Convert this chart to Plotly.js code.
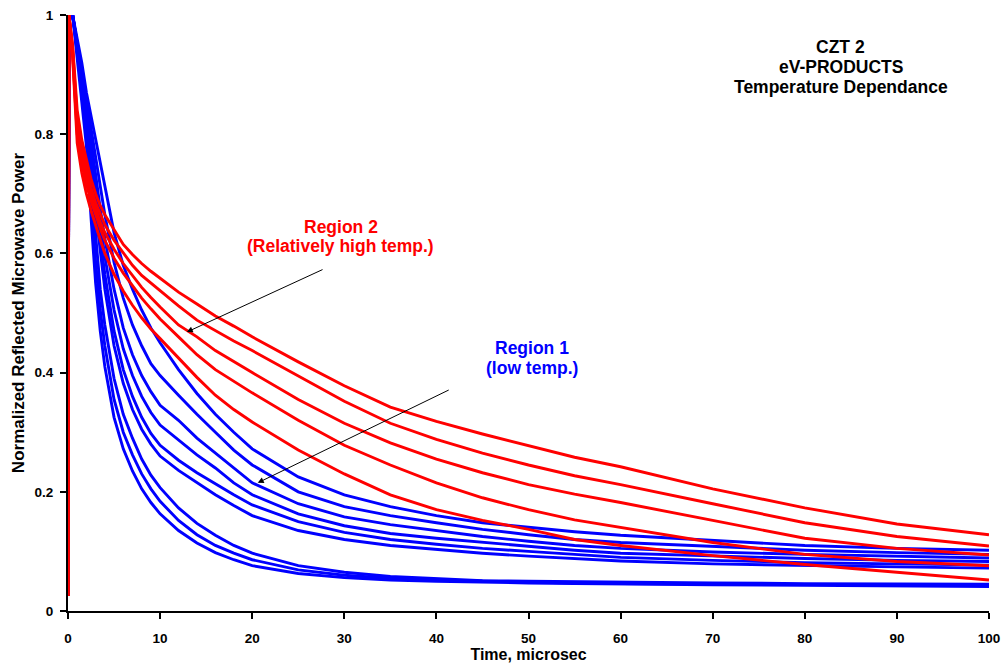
<!DOCTYPE html>
<html>
<head>
<meta charset="utf-8">
<script src="https://cdn.plot.ly/plotly-3.0.1.min.js"></script>
<style>
  html, body { margin: 0; padding: 0; background: #fff; }
  #chart { width: 1006px; height: 669px; }
</style>
</head>
<body>
<div id="chart"></div>
<script>
// Sample times (microseconds) shared by every decay trace
const timeUs = [0, 0.1, 0.5, 1, 1.5, 2, 2.5, 3, 3.5, 4, 5, 6, 7, 8, 9, 10, 12, 14, 16, 18, 20,
                25, 30, 35, 40, 45, 50, 55, 60, 70, 80, 90, 100];

// Region 1 (low temperature) decays, slowest to fastest
const low1 = [0.025, 1, 1.0, 0.96, 0.92, 0.87, 0.83, 0.79, 0.75, 0.71, 0.635, 0.58, 0.54, 0.505, 0.475, 0.45, 0.405, 0.365, 0.33, 0.3, 0.272, 0.225, 0.195, 0.175, 0.16, 0.148, 0.14, 0.133, 0.127, 0.118, 0.11, 0.105, 0.102];
const low2 = [0.025, 1, 1.0, 0.955, 0.91, 0.86, 0.81, 0.76, 0.71, 0.665, 0.585, 0.525, 0.48, 0.445, 0.415, 0.395, 0.362, 0.33, 0.3, 0.27, 0.245, 0.2, 0.175, 0.16, 0.148, 0.137, 0.128, 0.12, 0.115, 0.108, 0.102, 0.098, 0.095];
const low3 = [0.025, 1, 1.0, 0.95, 0.9, 0.85, 0.79, 0.73, 0.675, 0.625, 0.54, 0.475, 0.43, 0.395, 0.368, 0.345, 0.32, 0.29, 0.265, 0.24, 0.215, 0.18, 0.158, 0.145, 0.135, 0.125, 0.117, 0.11, 0.105, 0.099, 0.095, 0.092, 0.089];
const low4 = [0.025, 1, 1.0, 0.95, 0.895, 0.84, 0.775, 0.71, 0.65, 0.595, 0.505, 0.44, 0.395, 0.36, 0.333, 0.312, 0.287, 0.262, 0.24, 0.215, 0.195, 0.163, 0.143, 0.13, 0.122, 0.115, 0.108, 0.102, 0.097, 0.092, 0.088, 0.085, 0.083];
const low5 = [0.025, 1, 1.0, 0.95, 0.89, 0.83, 0.76, 0.69, 0.625, 0.565, 0.47, 0.405, 0.36, 0.325, 0.298, 0.278, 0.253, 0.232, 0.213, 0.195, 0.178, 0.15, 0.132, 0.12, 0.112, 0.105, 0.1, 0.095, 0.09, 0.085, 0.081, 0.079, 0.077];
const low6 = [0.025, 1, 1.0, 0.95, 0.885, 0.82, 0.745, 0.67, 0.6, 0.54, 0.445, 0.382, 0.338, 0.305, 0.28, 0.26, 0.236, 0.215, 0.195, 0.177, 0.16, 0.135, 0.12, 0.11, 0.103, 0.097, 0.092, 0.088, 0.084, 0.079, 0.076, 0.074, 0.072];
const low7 = [0.025, 1, 1.0, 0.945, 0.885, 0.815, 0.72, 0.62, 0.54, 0.48, 0.39, 0.33, 0.29, 0.255, 0.228, 0.207, 0.173, 0.147, 0.127, 0.11, 0.097, 0.076, 0.065, 0.058, 0.054, 0.051, 0.05, 0.049, 0.048, 0.047, 0.046, 0.045, 0.045];
const low8 = [0.025, 1, 1.0, 0.94, 0.875, 0.8, 0.69, 0.585, 0.505, 0.445, 0.355, 0.3, 0.262, 0.23, 0.205, 0.184, 0.152, 0.128, 0.11, 0.097, 0.086, 0.069, 0.06, 0.055, 0.052, 0.05, 0.048, 0.047, 0.046, 0.045, 0.044, 0.044, 0.043];
const low9 = [0.025, 1, 1.0, 0.93, 0.86, 0.78, 0.66, 0.55, 0.47, 0.41, 0.325, 0.272, 0.235, 0.205, 0.182, 0.163, 0.135, 0.114, 0.098, 0.086, 0.076, 0.063, 0.056, 0.052, 0.05, 0.048, 0.047, 0.046, 0.045, 0.044, 0.043, 0.042, 0.041];

// Region 2 (relatively high temperature) decays, slowest to fastest
const high1 = [0.025, 1, 0.95, 0.84, 0.79, 0.755, 0.725, 0.70, 0.68, 0.665, 0.64, 0.615, 0.598, 0.583, 0.57, 0.558, 0.535, 0.515, 0.495, 0.478, 0.46, 0.418, 0.378, 0.342, 0.318, 0.297, 0.277, 0.258, 0.242, 0.205, 0.173, 0.146, 0.128];
const high2 = [0.025, 1, 0.945, 0.825, 0.775, 0.74, 0.71, 0.685, 0.665, 0.648, 0.622, 0.6, 0.58, 0.563, 0.55, 0.537, 0.512, 0.488, 0.47, 0.453, 0.437, 0.394, 0.352, 0.315, 0.288, 0.265, 0.245, 0.227, 0.212, 0.18, 0.148, 0.125, 0.109];
const high3 = [0.025, 1, 0.94, 0.81, 0.762, 0.728, 0.7, 0.675, 0.652, 0.635, 0.607, 0.583, 0.562, 0.543, 0.526, 0.51, 0.48, 0.46, 0.437, 0.418, 0.4, 0.355, 0.315, 0.282, 0.255, 0.232, 0.212, 0.196, 0.182, 0.152, 0.122, 0.105, 0.094];
const high4 = [0.025, 1, 0.935, 0.8, 0.75, 0.716, 0.688, 0.663, 0.642, 0.622, 0.592, 0.567, 0.545, 0.525, 0.507, 0.49, 0.46, 0.43, 0.405, 0.385, 0.366, 0.32, 0.278, 0.245, 0.215, 0.19, 0.17, 0.153, 0.14, 0.115, 0.095, 0.083, 0.076];
const high5 = [0.025, 1, 0.93, 0.785, 0.735, 0.7, 0.672, 0.646, 0.623, 0.6, 0.565, 0.537, 0.513, 0.492, 0.473, 0.457, 0.425, 0.392, 0.362, 0.338, 0.317, 0.27, 0.23, 0.195, 0.17, 0.152, 0.137, 0.12, 0.11, 0.093, 0.078, 0.065, 0.052];

const xTicks = [0, 10, 20, 30, 40, 50, 60, 70, 80, 90, 100];
const yTicks = [0, 0.2, 0.4, 0.6, 0.8, 1];
const yTickText = ['0', '0.2', '0.4', '0.6', '0.8', '1'];

const lowSeries = [low1, low2, low3, low4, low5, low6, low7, low8, low9];
const highSeries = [high1, high2, high3, high4, high5];

const BLUE = '#0000FF';
const RED = '#FF0000';
const FONT = 'Liberation Sans, Arial, Helvetica, sans-serif';

function decayTrace(values, color) {
  return {
    type: 'scatter',
    mode: 'lines',
    x: timeUs,
    y: values,
    line: { color: color, width: 2.9 },
    hoverinfo: 'skip',
    showlegend: false
  };
}

const traces = [];
lowSeries.forEach(s => traces.push(decayTrace(s, BLUE)));
highSeries.forEach(s => traces.push(decayTrace(s, RED)));

function label(text, x, y, color, size) {
  return {
    text: text, x: x, y: y, xref: 'x', yref: 'y',
    showarrow: false, xanchor: 'center', yanchor: 'middle',
    font: { family: FONT, size: size, color: color, weight: 'bold' }
  };
}

function pointer(xHead, yHead, xTail, yTail) {
  return {
    text: '', x: xHead, y: yHead, ax: xTail, ay: yTail,
    xref: 'x', yref: 'y', axref: 'x', ayref: 'y',
    showarrow: true, arrowhead: 2, arrowsize: 1.2, arrowwidth: 1, arrowcolor: '#000'
  };
}

const layout = {
  width: 1006,
  height: 669,
  margin: { l: 68, r: 17, t: 15, b: 58 },
  paper_bgcolor: '#fff',
  plot_bgcolor: '#fff',
  showlegend: false,
  font: { family: FONT, color: '#000' },
  xaxis: {
    range: [0, 100],
    tickvals: xTicks,
    ticks: 'outside', ticklen: 6, tickwidth: 2, tickcolor: '#000',
    showline: true, linewidth: 2, linecolor: '#000',
    showgrid: false, zeroline: false,
    ticklabelstandoff: 8,
    tickfont: { family: FONT, size: 13.5, color: '#000', weight: 'bold' },
    title: { text: 'Time, microsec', standoff: 3,
             font: { family: FONT, size: 16, color: '#000', weight: 'bold' } }
  },
  yaxis: {
    range: [0, 1],
    tickvals: yTicks, ticktext: yTickText,
    ticks: 'outside', ticklen: 6, tickwidth: 2, tickcolor: '#000',
    showline: true, linewidth: 2, linecolor: '#000',
    showgrid: false, zeroline: false,
    ticklabelstandoff: 4,
    tickfont: { family: FONT, size: 13.5, color: '#000', weight: 'bold' },
    title: { text: 'Normalized Reflected Microwave Power', standoff: 6,
             font: { family: FONT, size: 17, color: '#000', weight: 'bold' } }
  },
  annotations: [
    label('CZT 2', 83.9, 0.946, '#000', 17.5),
    label('eV-PRODUCTS', 83.9, 0.913, '#000', 17.5),
    label('Temperature Dependance', 83.9, 0.879, '#000', 17.5),
    label('Region 2', 29.6, 0.644, RED, 17.5),
    label('(Relatively high temp.)', 29.6, 0.612, RED, 17.5),
    label('Region 1', 50.4, 0.441, BLUE, 17.5),
    label('(low temp.)', 50.4, 0.408, BLUE, 17.5),
    pointer(12.9, 0.468, 27.8, 0.574),
    pointer(20.6, 0.215, 41.5, 0.372)
  ]
};

Plotly.newPlot('chart', traces, layout, { staticPlot: true, displayModeBar: false });
</script>
</body>
</html>
